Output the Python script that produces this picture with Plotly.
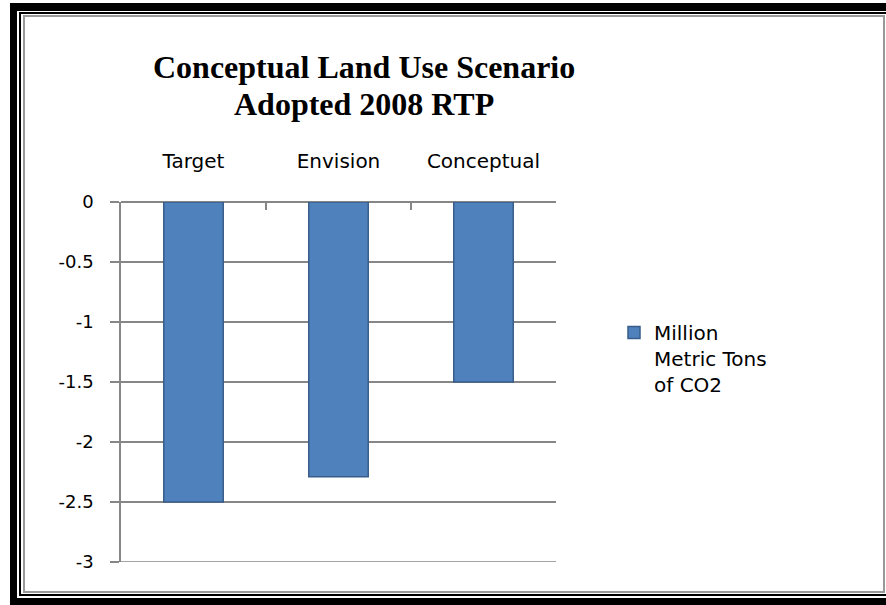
import plotly.graph_objects as go

categories = ["Target", "Envision", "Conceptual"]
values = [-2.5, -2.29, -1.5]
series_name = "Million<br>Metric Tons<br>of CO2"
title_lines = ["Conceptual Land Use Scenario", "Adopted 2008 RTP"]
y_ticks = [0, -0.5, -1, -1.5, -2, -2.5, -3]

W, H = 886, 605
L, R, T, B = 121, 330, 202, 43
PW, PH = W - L - R, H - T - B

def px(x):
    return (x - L) / PW

def py(y):
    return 1 - (y - T) / PH

FONT = "DejaVu Sans"
GRID = "#868686"

fig = go.Figure()
fig.add_trace(go.Bar(
    x=categories, y=values, name=series_name,
    marker=dict(color="#4F81BD", line=dict(color="#385D8A", width=1.5)),
    showlegend=True,
))

shapes = []
def rect(x0, y0, x1, y1, color):
    shapes.append(dict(type="rect", xref="paper", yref="paper",
                       x0=px(x0), x1=px(x1), y0=py(y1), y1=py(y0),
                       fillcolor=color, line=dict(width=0), layer="above"))

# thick black outer frame
rect(10, 3, 17, 605, "black")
rect(10, 3, 886, 11, "black")
rect(10, 598, 886, 605, "black")
# thin black frame
rect(19, 12, 21, 596, "black")
rect(19, 12, 886, 14, "black")
rect(19, 594, 886, 596, "black")
# gray inner frame
rect(23, 15, 25, 593, "#999999")
rect(23, 15, 885, 17, "#999999")
rect(23, 591, 885, 593, "#999999")
rect(883, 15, 885, 593, "#999999")

# gridline at the axis minimum (plotly omits the boundary gridline)
shapes.append(dict(type="line", xref="paper", yref="y",
                   x0=0, x1=1, y0=min(y_ticks), y1=min(y_ticks),
                   line=dict(color=GRID, width=1.5), layer="below"))

title_y = [67, 104]
annotations = [dict(
    text="<b>" + line + "</b>",
    xref="paper", yref="paper", x=px(364), y=py(yy),
    xanchor="center", yanchor="middle", showarrow=False,
    font=dict(family="Liberation Serif", size=32, color="black"),
) for line, yy in zip(title_lines, title_y)]

fig.update_layout(
    width=W, height=H,
    margin=dict(l=L, r=R, t=T, b=B),
    paper_bgcolor="white", plot_bgcolor="white",
    bargap=0.59,
    font=dict(family=FONT, size=18, color="black"),
    shapes=shapes,
    annotations=annotations,
    legend=dict(
        x=px(614), y=py(313), xanchor="left", yanchor="top",
        font=dict(family=FONT, size=20, color="black"),
        valign="top", itemwidth=30, bgcolor="rgba(0,0,0,0)",
        tracegroupgap=0,
    ),
    xaxis=dict(
        side="top", type="category",
        showline=False, showgrid=False,
        ticks="inside", tickson="boundaries", ticklen=8, tickcolor=GRID, tickwidth=1.5,
        tickfont=dict(family=FONT, size=20),
        ticklabelstandoff=29,
    ),
    yaxis=dict(
        range=[min(y_ticks), max(y_ticks)], tickvals=y_ticks,
        ticktext=[str(v) for v in y_ticks],
        showgrid=True, gridcolor=GRID, gridwidth=1.5,
        showline=True, linecolor=GRID, linewidth=1.5,
        ticks="outside", ticklen=9, tickcolor=GRID, tickwidth=1.5,
        zeroline=True, zerolinecolor=GRID, zerolinewidth=1.5,
        tickfont=dict(family=FONT, size=18),
        ticklabelstandoff=13,
    ),
)

fig.write_html("out.html", config={"displayModeBar": False},
               post_script="document.body.style.margin='0px';")
